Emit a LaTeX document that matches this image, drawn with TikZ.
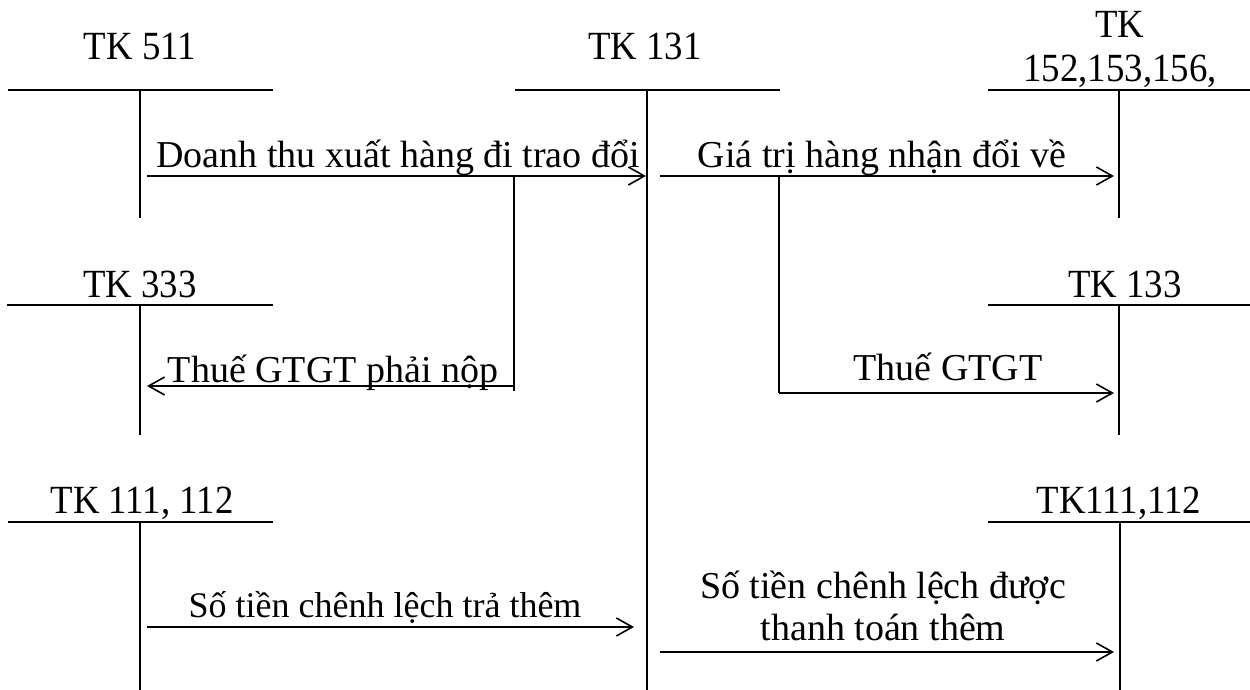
\documentclass[tikz,border=0pt]{standalone}
\usepackage{fontspec}
\setmainfont{Liberation Serif}
\newfontfamily\headfont[FakeStretch=0.92]{Liberation Serif}
\usetikzlibrary{arrows.meta}
\begin{document}
\begin{tikzpicture}[x=0.5pt,y=-0.5pt,
  acct/.style={line width=0.7pt},
  flow/.style={line width=1pt,-{Straight Barb[length=8pt,width=9pt,line width=0.8pt]}},
  branch/.style={line width=0.7pt},
  title/.style={anchor=base,inner sep=0pt,font=\headfont\fontsize{20}{22}\selectfont,align=center},
  lbl/.style={anchor=base,inner sep=0pt,font=\fontsize{19}{20}\selectfont,align=center}]
\useasboundingbox (0,0) rectangle (1250,690);

% ---- account headings ----
\node[title] (t511) at (140,60) {TK 511};
\node[title] (t131) at (645,60) {TK 131};
\node[title] (t152) at (1120,82) {TK\\152,153,156,};
\node[title] (t333) at (140,298) {TK 333};
\node[title] (t133) at (1125,298) {TK 133};
\node[title] (t111a) at (142,513) {TK 111, 112};
\node[title] (t111b) at (1119,513) {TK111,112};

% ---- T-account rulings ----
\draw[acct] (8,90) -- (273,90);    \draw[acct] (140,90) -- (140,218);
\draw[acct] (515,90) -- (780,90);  \draw[acct] (647,90) -- (647,690);
\draw[acct] (988,90) -- (1250,90); \draw[acct] (1119,90) -- (1119,218);
\draw[acct] (7,305) -- (273,305);  \draw[acct] (140,305) -- (140,435);
\draw[acct] (988,305) -- (1250,305); \draw[acct] (1119,305) -- (1119,435);
\draw[acct] (8,522) -- (273,522);  \draw[acct] (140,522) -- (140,690);
\draw[acct] (988,522) -- (1250,522); \draw[acct] (1120,522) -- (1120,690);

% ---- connector end points ----
\coordinate (s1) at (147,176);  \coordinate (e1) at (646,176);
\coordinate (b1) at (514,176);  \coordinate (b1d) at (514,391);
\coordinate (s3) at (514,386);  \coordinate (e3) at (147,386);
\coordinate (s2) at (660,176);  \coordinate (e2) at (1114,176);
\coordinate (b2) at (779,176);  \coordinate (b2d) at (779,393);
\coordinate (e4) at (1114,393);
\coordinate (s5) at (147,627);  \coordinate (e5) at (634,627);
\coordinate (s6) at (660,652);  \coordinate (e6) at (1114,652);

% ---- connectors ----
\draw[flow] (s1) -- (e1);
\draw[branch] (b1) -- (b1d);
\draw[flow] (s3) -- (e3);
\draw[flow] (s2) -- (e2);
\draw[branch] (b2) -- (b2d);
\draw[flow] (b2d) -- (e4);
\draw[flow] (s5) -- (e5);
\draw[flow] (s6) -- (e6);

% ---- entry labels ----
\node[lbl] (l1) at (398,168) {Doanh thu xuất hàng đi trao đổi};
\node[lbl] (l2) at (882,168) {Giá trị hàng nhận đổi về};
\node[lbl] (l3) at (333,383) {Thuế GTGT phải nộp};
\node[lbl] (l4) at (948,380) {Thuế GTGT};
\node[lbl,font=\fontsize{18}{20}\selectfont] (l5) at (385,617) {Số tiền chênh lệch trả thêm};
\node[lbl,font=\fontsize{19}{21}\selectfont] (l6) at (883,640) {Số tiền chênh lệch được\\thanh toán thêm};
\end{tikzpicture}
\end{document}
